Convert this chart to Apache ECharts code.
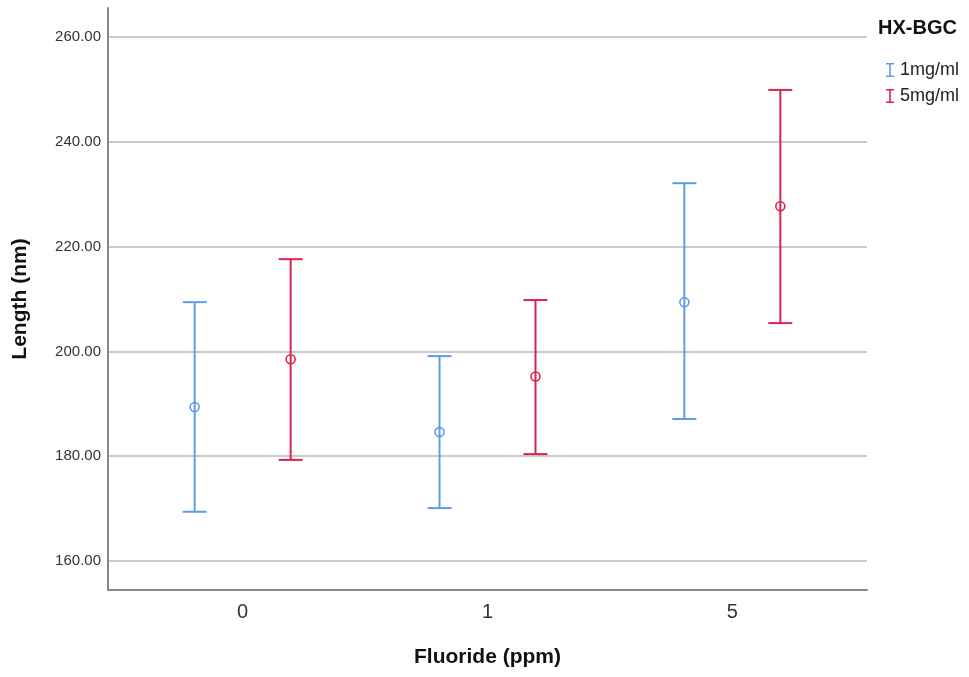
<!DOCTYPE html>
<html>
<head>
<meta charset="utf-8">
<script src="https://cdn.jsdelivr.net/npm/echarts@6/dist/echarts.min.js"></script>
<style>
  html, body { margin: 0; padding: 0; background: #fff; }
  #chart { width: 969px; height: 677px; }
</style>
</head>
<body>
<div id="chart"></div>
<script>
// data (means with error bar ends)
const categories = ["0", "1", "5"];
const yTicks = [160, 180, 200, 220, 240, 260];
const mean1 = [189.4, 184.6, 209.4];
const lower1 = [169.4, 170.1, 187.1];
const upper1 = [209.4, 199.1, 232.1];
const mean5 = [198.5, 195.2, 227.7];
const lower5 = [179.3, 180.4, 205.4];
const upper5 = [217.6, 209.8, 249.9];

const BLUE = "#5f9ce8", RED = "#d82450";
const FONT = "'Liberation Sans', Arial, sans-serif";
const IBAR = "path://M0,0H8V1.6H4.8V12.4H8V14H0V12.4H3.2V1.6H0Z";

const chart = echarts.init(document.getElementById("chart"));

function errorBars(name, color, shift, mean, lower, upper){
  return {
    type: "custom", name,
    itemStyle: { color },
    data: categories.map((c, i) => [i, mean[i], lower[i], upper[i]]),
    encode: { x: 0, y: [1, 2, 3] },
    renderItem: (params, api) => {
      const x = api.value(0) + shift;
      const top = api.coord([x, api.value(3)]);
      const bot = api.coord([x, api.value(2)]);
      const mid = api.coord([x, api.value(1)]);
      const half = 12;
      const st = { stroke: color, lineWidth: 2, fill: "none" };
      return { type: "group", children: [
        { type: "line", shape: { x1: top[0], y1: top[1], x2: bot[0], y2: bot[1] }, style: st },
        { type: "line", shape: { x1: top[0]-half, y1: top[1], x2: top[0]+half, y2: top[1] }, style: st },
        { type: "line", shape: { x1: bot[0]-half, y1: bot[1], x2: bot[0]+half, y2: bot[1] }, style: st },
        { type: "circle", shape: { cx: mid[0], cy: mid[1], r: 4.5 }, style: { stroke: color, lineWidth: 1.6, fill: "none" } }
      ]};
    }
  };
}

chart.setOption({
  animation: false,
  backgroundColor: "#fff",
  color: [BLUE, RED],
  title: {
    text: "HX-BGC", left: 878, top: 18, padding: 0,
    textStyle: { fontFamily: FONT, fontSize: 20, fontWeight: "bold", color: "#111" }
  },
  legend: {
    orient: "vertical", left: 886, top: 61, padding: 0,
    itemWidth: 10, itemHeight: 14, itemGap: 8,
    textStyle: { fontFamily: FONT, fontSize: 18, lineHeight: 18, color: "#222" },
    data: [{ name: "1mg/ml", icon: IBAR }, { name: "5mg/ml", icon: IBAR }]
  },
  grid: { left: 108, right: 102, top: 8, bottom: 87 },
  xAxis: {
    type: "value", min: -0.55, max: 2.55,
    name: "Fluoride (ppm)", nameLocation: "middle", nameGap: 57,
    nameTextStyle: { fontFamily: FONT, fontSize: 21, fontWeight: "bold", color: "#111" },
    axisLine: { onZero: false, lineStyle: { color: "#888", width: 2 } },
    axisTick: { show: false },
    splitLine: { show: false },
    axisLabel: {
      customValues: [0, 1, 2], margin: 12,
      formatter: (v) => categories[Math.round(v)],
      fontFamily: FONT, fontSize: 20, color: "#333"
    }
  },
  yAxis: {
    type: "value", min: 154.47, max: 265.53,
    name: "Length (nm)", nameLocation: "middle", nameGap: 77,
    nameTextStyle: { fontFamily: FONT, fontSize: 21, fontWeight: "bold", color: "#111" },
    axisLine: { show: true, onZero: false, lineStyle: { color: "#888", width: 2 } },
    axisTick: { show: false, customValues: yTicks },
    splitLine: { show: true, lineStyle: { color: "#cacaca", width: 2 } },
    axisLabel: {
      customValues: yTicks, margin: 7,
      formatter: (v) => v.toFixed(2),
      fontFamily: FONT, fontSize: 15, color: "#333"
    }
  },
  series: [
    errorBars("1mg/ml", BLUE, -0.196, mean1, lower1, upper1),
    errorBars("5mg/ml", RED, 0.196, mean5, lower5, upper5)
  ]
});
</script>
</body>
</html>
